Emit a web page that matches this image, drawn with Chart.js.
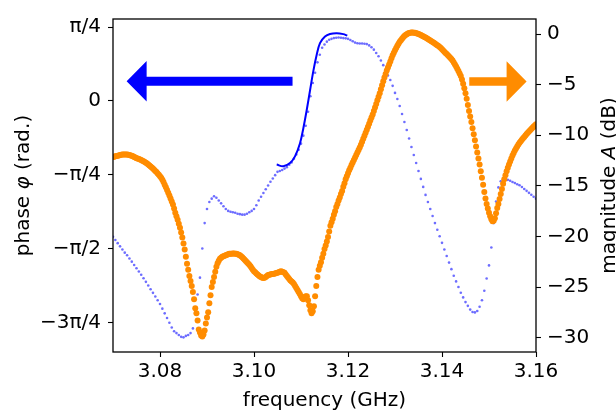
<!DOCTYPE html>
<html>
<head>
<meta charset="utf-8">
<script src="https://cdn.jsdelivr.net/npm/chart.js@4.4.0/dist/chart.umd.min.js"></script>
<style>
  html, body { margin: 0; padding: 0; background: #fff; }
  #wrap { width: 616px; height: 410px; }
</style>
</head>
<body>
<div id="wrap"><canvas id="chart" width="616" height="410"></canvas></div>
<script>
// ---- datos ----
// frecuencia de la primera muestra (GHz) y paso de cada serie
const freqStart = 3.07;
const phaseStep = 0.0005;
const magStep = 0.00025;

// fase medida (rad), una muestra cada 0.5 MHz desde 3.07 GHz
const phaseRad = [
  -1.445, -1.479, -1.513, -1.547, -1.58, -1.614, -1.642, -1.676, -1.71, -1.745,
  -1.78, -1.814, -1.85, -1.886, -1.925, -1.964, -2.003, -2.042, -2.08, -2.12,
  -2.16, -2.21, -2.26, -2.31, -2.36, -2.41, -2.45, -2.47, -2.49, -2.51,
  -2.515, -2.50, -2.49, -2.47, -2.42, -2.25, -2.06, -1.88, -1.57, -1.30,
  -1.15, -1.075, -1.04, -1.015, -1.03, -1.06, -1.09, -1.12, -1.15, -1.17,
  -1.18, -1.185, -1.19, -1.20, -1.205, -1.21, -1.21, -1.20, -1.185, -1.17,
  -1.15, -1.11, -1.06, -1.02, -0.98, -0.94, -0.90, -0.86, -0.825, -0.79,
  -0.755, -0.745, -0.735, -0.72, -0.705, -0.68, -0.655, -0.615, -0.57, -0.52,
  -0.455, -0.37, -0.265, -0.115, 0.05, 0.19, 0.30, 0.41, 0.49, 0.565,
  0.60, 0.63, 0.651, 0.66, 0.668, 0.672, 0.674, 0.672, 0.668, 0.665,
  0.66, 0.648, 0.635, 0.62, 0.613, 0.61, 0.61, 0.607, 0.604, 0.59,
  0.57, 0.545, 0.51, 0.475, 0.43, 0.38, 0.33, 0.27, 0.222, 0.16,
  0.085, 0.02, -0.055, -0.14, -0.225, -0.31, -0.40, -0.49, -0.575, -0.66,
  -0.745, -0.83, -0.915, -1.0, -1.075, -1.15, -1.225, -1.30, -1.37, -1.44,
  -1.51, -1.58, -1.65, -1.72, -1.79, -1.86, -1.92, -1.98, -2.04, -2.09,
  -2.14, -2.18, -2.22, -2.245, -2.25, -2.235, -2.19, -2.12, -2.02, -1.89,
  -1.75, -1.56, -1.30, -1.07, -0.92, -0.855, -0.835, -0.835, -0.84, -0.85,
  -0.863, -0.874, -0.886, -0.898, -0.916, -0.937, -0.957, -0.978, -0.998, -1.019,
  -1.04
];

// magnitud medida (dB), una muestra cada 0.25 MHz desde 3.07 GHz
const magDb = [
  -12.15, -12.12, -12.08, -12.05, -12.02, -11.99, -11.96, -11.93, -11.91, -11.9, -11.89, -11.89, -11.9, -11.92, -11.95, -11.99, -12.03, -12.08, -12.14, -12.2,
  -12.26, -12.3, -12.35, -12.4, -12.45, -12.51, -12.57, -12.64, -12.72, -12.8, -12.89, -12.98, -13.08, -13.18, -13.29, -13.4, -13.52, -13.64, -13.77, -13.9,
  -14.04, -14.2, -14.4, -14.63, -14.9, -15.15, -15.4, -15.68, -15.96, -16.25, -16.55, -16.85, -17.25, -17.65, -18.0, -18.35, -18.75, -19.15, -19.6, -20.1,
  -20.7, -21.3, -22.0, -22.7, -23.3, -23.9, -24.4, -24.9, -25.5, -26.2, -27.1, -27.6, -28.3, -29.2, -29.5, -29.8, -29.9, -29.7, -29.3, -28.6,
  -28.0, -27.5, -26.6, -25.8, -25.0, -24.5, -24.0, -23.5, -23.0, -22.65, -22.4, -22.2, -22.1, -22.0, -21.95, -21.9, -21.85, -21.8, -21.75, -21.72,
  -21.7, -21.7, -21.68, -21.68, -21.7, -21.72, -21.75, -21.8, -21.87, -21.95, -22.05, -22.17, -22.3, -22.42, -22.55, -22.68, -22.8, -22.95, -23.12, -23.3,
  -23.45, -23.55, -23.65, -23.75, -23.85, -23.95, -24.02, -24.07, -24.1, -24.08, -24.0, -23.9, -23.82, -23.78, -23.75, -23.72, -23.7, -23.68, -23.65, -23.62,
  -23.6, -23.55, -23.5, -23.45, -23.5, -23.55, -23.6, -23.75, -23.9, -24.05, -24.2, -24.35, -24.45, -24.55, -24.7, -24.9, -25.1, -25.3, -25.5, -25.7,
  -25.9, -26.1, -26.2, -26.0, -25.9, -25.9, -26.3, -26.8, -27.3, -27.6, -27.4, -26.9, -25.9, -24.9, -24.0, -23.3, -22.9, -22.55, -22.1, -21.7,
  -21.25, -20.9, -20.5, -20.05, -19.5, -18.95, -18.6, -18.25, -17.85, -17.5, -17.1, -16.8, -16.45, -16.15, -15.8, -15.5, -15.1, -14.75, -14.35, -14.05,
  -13.75, -13.45, -13.2, -12.95, -12.7, -12.45, -12.2, -11.95, -11.7, -11.45, -11.2, -10.95, -10.65, -10.35, -10.05, -9.75, -9.45, -9.15, -8.85, -8.55,
  -8.25, -7.95, -7.6, -7.25, -6.9, -6.55, -6.2, -5.85, -5.45, -5.05, -4.65, -4.3, -3.95, -3.6, -3.3, -3.0, -2.7, -2.4, -2.1, -1.85,
  -1.6, -1.37, -1.15, -0.95, -0.77, -0.6, -0.45, -0.32, -0.2, -0.1, -0.02, 0.05, 0.1, 0.13, 0.15, 0.15, 0.14, 0.12, 0.09, 0.05,
  0.0, -0.05, -0.1, -0.16, -0.22, -0.28, -0.35, -0.42, -0.49, -0.56, -0.63, -0.71, -0.78, -0.86, -0.94, -1.02, -1.1, -1.19, -1.28, -1.38,
  -1.5, -1.62, -1.74, -1.86, -1.97, -2.09, -2.21, -2.34, -2.47, -2.62, -2.8, -3.0, -3.2, -3.42, -3.65, -3.9, -4.15, -4.5, -4.9, -5.35,
  -5.85, -6.4, -7.0, -7.6, -8.15, -8.7, -9.3, -9.9, -10.5, -11.1, -11.7, -12.3, -12.9, -13.55, -14.2, -14.9, -15.6, -16.25, -16.8, -17.25,
  -17.65, -18.0, -18.3, -18.5, -18.45, -18.2, -17.7, -17.2, -16.8, -16.3, -15.8, -15.3, -14.8, -14.35, -13.95, -13.55, -13.2, -12.9, -12.6, -12.3,
  -12.0, -11.75, -11.5, -11.3, -11.1, -10.92, -10.75, -10.6, -10.45, -10.3, -10.16, -10.02, -9.88, -9.75, -9.62, -9.5, -9.38, -9.26, -9.14, -9.03,
  -8.92
];

// ajuste de la fase (línea continua)
const fitFreq = [3.10483, 3.10623, 3.10766, 3.10872, 3.10979, 3.11049, 3.11121, 3.11191,
                 3.11262, 3.11334, 3.11404, 3.11511, 3.11617, 3.1176, 3.119, 3.11985];
const fitPhase = [-0.677, -0.695, -0.66, -0.59, -0.45, -0.293, -0.10, 0.108,
                  0.317, 0.49, 0.615, 0.685, 0.712, 0.72, 0.71, 0.694];

// ejes
const freqTicks = [3.08, 3.10, 3.12, 3.14, 3.16];
const phaseTicks = [-3 * Math.PI / 4, -Math.PI / 2, -Math.PI / 4, 0, Math.PI / 4];
const phaseTickLabels = ['−3π/4', '−π/2', '−π/4', '0', 'π/4'];
const magTicks = [-30, -25, -20, -15, -10, -5, 0];

// flechas que indican el eje de cada serie (en unidades de datos)
const phaseArrow = { from: 3.1082, to: 3.0729, at: 0.209 };
const magArrow = { from: 3.1458, to: 3.1580, at: -4.69 };

// colores
const colors = {
    phaseDots: 'rgba(60, 60, 255, 0.75)',
    phaseFit: '#0000ff',
    mag: '#ff8c00',
    axis: '#000000'
};

const FONT = "'DejaVu Sans', sans-serif";
Chart.defaults.font.family = FONT;
Chart.defaults.font.size = 20;
Chart.defaults.color = '#000';

// puntos de cada serie
const phasePoints = phaseRad.map((v, i) => ({ x: freqStart + i * phaseStep, y: v }));
const magPoints = magDb.map((v, i) => ({ x: freqStart + i * magStep, y: v }));
const fitPoints = fitFreq.map((f, i) => ({ x: f, y: fitPhase[i] }));

function drawArrow(ctx, x0, x1, yc, shaftHalf, headHalf, headLen, color) {
    const dir = x1 > x0 ? 1 : -1;
    const xb = x1 - dir * headLen;
    ctx.beginPath();
    ctx.moveTo(x0, yc - shaftHalf);
    ctx.lineTo(xb, yc - shaftHalf);
    ctx.lineTo(xb, yc - headHalf);
    ctx.lineTo(x1, yc);
    ctx.lineTo(xb, yc + headHalf);
    ctx.lineTo(xb, yc + shaftHalf);
    ctx.lineTo(x0, yc + shaftHalf);
    ctx.closePath();
    ctx.fillStyle = color;
    ctx.fill();
}

// texto con partes en cursiva
function drawParts(ctx, parts, x, y, angle) {
    ctx.save();
    ctx.translate(x, y);
    ctx.rotate(angle);
    ctx.textBaseline = 'alphabetic';
    ctx.textAlign = 'left';
    let total = 0;
    parts.forEach(p => {
        ctx.font = (p[1] ? 'italic ' : '') + '20px ' + FONT;
        total += ctx.measureText(p[0]).width;
    });
    let cx = -total / 2;
    parts.forEach(p => {
        ctx.font = (p[1] ? 'italic ' : '') + '20px ' + FONT;
        ctx.fillStyle = '#000';
        ctx.fillText(p[0], cx, 0);
        cx += ctx.measureText(p[0]).width;
    });
    ctx.restore();
}

const decorPlugin = {
    id: 'decor',
    afterDatasetsDraw(chart) {
        const { ctx, chartArea: a, scales } = chart;
        ctx.save();
        drawArrow(ctx, scales.x.getPixelForValue(phaseArrow.from), scales.x.getPixelForValue(phaseArrow.to),
            scales.y.getPixelForValue(phaseArrow.at), 4.5, 20.3, 20, colors.phaseFit);
        drawArrow(ctx, scales.x.getPixelForValue(magArrow.from), scales.x.getPixelForValue(magArrow.to),
            scales.y2.getPixelForValue(magArrow.at), 4.2, 20.3, 20, colors.mag);
        ctx.strokeStyle = colors.axis;
        ctx.lineWidth = 1.3;
        ctx.strokeRect(a.left, a.top, a.right - a.left, a.bottom - a.top);
        ctx.restore();
    },
    afterDraw(chart) {
        const { ctx, chartArea: a } = chart;
        const midY = (a.top + a.bottom) / 2;
        drawParts(ctx, [['frequency (GHz)', false]], (a.left + a.right) / 2, 405.5, 0);
        drawParts(ctx, [['phase ', false], ['φ', true], [' (rad.)', false]], 28.5, midY, -Math.PI / 2);
        drawParts(ctx, [['magnitude ', false], ['A', true], [' (dB)', false]], 615, midY, -Math.PI / 2);
    }
};

const tickGrid = { drawOnChartArea: false, drawTicks: true, tickLength: 5, tickWidth: 1.1, tickColor: '#000' };

new Chart(document.getElementById('chart'), {
    type: 'scatter',
    data: {
        datasets: [
            {
                label: 'magnitud',
                data: magPoints,
                yAxisID: 'y2',
                backgroundColor: colors.mag,
                borderWidth: 0,
                pointRadius: 3.0,
                pointHoverRadius: 3.0,
                clip: 0
            },
            {
                label: 'ajuste',
                data: fitPoints,
                yAxisID: 'y',
                showLine: true,
                borderColor: colors.phaseFit,
                borderWidth: 2,
                tension: 0.35,
                pointRadius: 0,
                clip: 0
            },
            {
                label: 'fase',
                data: phasePoints,
                yAxisID: 'y',
                backgroundColor: colors.phaseDots,
                borderWidth: 0,
                pointRadius: 1.3,
                pointHoverRadius: 1.3,
                clip: 0
            }
        ]
    },
    options: {
        responsive: false,
        animation: false,
        devicePixelRatio: 1,
        layout: { padding: { top: 14, left: 0, right: 0, bottom: 0 } },
        plugins: { legend: { display: false }, tooltip: { enabled: false } },
        scales: {
            x: {
                type: 'linear',
                min: 3.07,
                max: 3.16,
                afterBuildTicks: s => { s.ticks = freqTicks.map(v => ({ value: v })); },
                afterFit: s => { s.height = 58; },
                ticks: { callback: v => v.toFixed(2), padding: 3, maxRotation: 0 },
                grid: tickGrid,
                border: { display: false }
            },
            y: {
                position: 'left',
                min: -2.671,
                max: 0.871,
                afterBuildTicks: s => { s.ticks = phaseTicks.map(v => ({ value: v })); },
                afterFit: s => { s.width = 113; },
                ticks: { callback: (v, i) => phaseTickLabels[i], padding: 7 },
                grid: tickGrid,
                border: { display: false }
            },
            y2: {
                position: 'right',
                min: -31.42,
                max: 1.49,
                afterBuildTicks: s => { s.ticks = magTicks.map(v => ({ value: v })); },
                afterFit: s => { s.width = 80; },
                ticks: { callback: v => (v < 0 ? '−' + Math.abs(v) : String(v)), padding: 6 },
                grid: tickGrid,
                border: { display: false }
            }
        }
    },
    plugins: [decorPlugin]
});
</script>
</body>
</html>
